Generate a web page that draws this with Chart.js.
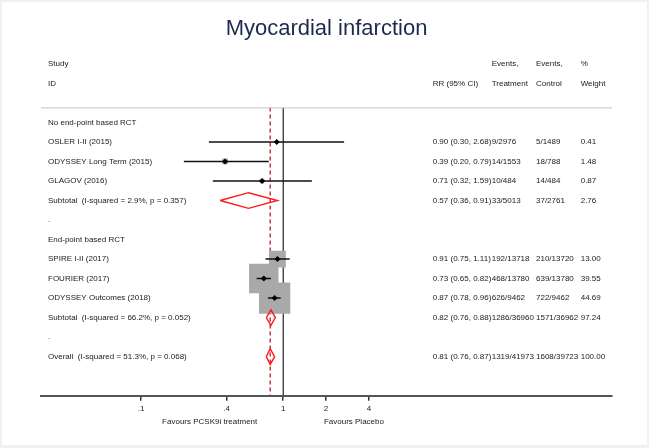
<!DOCTYPE html>
<html>
<head>
<meta charset="utf-8">
<script src="https://cdn.jsdelivr.net/npm/chart.js@4.4.1/dist/chart.umd.min.js"></script>
<style>
  body { margin: 0; background: #fff; }
  #plot { display: block; }
</style>
</head>
<body>
<canvas id="plot" width="649" height="448"></canvas>
<script>
// forest plot rows, top to bottom
const rowLabels = [
  "No end-point based RCT",
  "OSLER I-II (2015)",
  "ODYSSEY Long Term (2015)",
  "GLAGOV (2016)",
  "Subtotal  (I-squared = 2.9%, p = 0.357)",
  ".",
  "End-point based RCT",
  "SPIRE I-II (2017)",
  "FOURIER (2017)",
  "ODYSSEY Outcomes (2018)",
  "Subtotal  (I-squared = 66.2%, p = 0.052)",
  ".",
  "Overall  (I-squared = 51.3%, p = 0.068)"
];
const rowKind = ["head", "study", "study", "study", "pooled", "blank", "head", "study", "study", "study", "pooled", "blank", "pooled"];
const rr = [null, 0.90, 0.39, 0.71, 0.57, null, null, 0.91, 0.73, 0.87, 0.82, null, 0.81];
const ciLow = [null, 0.30, 0.20, 0.32, 0.36, null, null, 0.75, 0.65, 0.78, 0.76, null, 0.76];
const ciHigh = [null, 2.68, 0.79, 1.59, 0.91, null, null, 1.11, 0.82, 0.96, 0.88, null, 0.87];
const eventsTrt = ["", "9/2976", "14/1553", "10/484", "33/5013", "", "", "192/13718", "468/13780", "626/9462", "1286/36960", "", "1319/41973"];
const eventsCtl = ["", "5/1489", "18/788", "14/484", "37/2761", "", "", "210/13720", "639/13780", "722/9462", "1571/36962", "", "1608/39723"];
const weight = [null, 0.41, 1.48, 0.87, 2.76, null, null, 13.00, 39.55, 44.69, 97.24, null, 100.00];

const tickValues = [0.1, 0.4, 1, 2, 4];
const tickLabels = [".1", ".4", "1", "2", "4"];
const favourText = ["Favours PCSK9i treatment", "Favours Placebo"];

const overallRR = rr[rr.length - 1];
const yTop = -0.77, yBottom = 14;
const FONT = "'Liberation Sans', Arial, Helvetica, sans-serif";

// text column x positions (px)
const col = { study: 48, rr: 432.7, trt: 491.7, ctl: 536, wt: 580.7 };

const datasets = [];

// reference lines
datasets.push({
  data: [{ x: 1, y: yTop }, { x: 1, y: yBottom }],
  showLine: true, borderColor: "#222", borderWidth: 1.2, pointRadius: 0, order: 5
});
datasets.push({
  data: [{ x: overallRR, y: yTop }, { x: overallRR, y: yBottom }],
  showLine: true, borderColor: "#c8283c", borderWidth: 1.4, borderDash: [4, 3], pointRadius: 0, order: 5
});

// weight boxes
const boxPts = [], boxR = [];
rowKind.forEach((k, i) => {
  if (k === "study") {
    boxPts.push({ x: rr[i], y: i });
    boxR.push(4.68 * Math.sqrt(weight[i]) / Math.SQRT2);
  }
});
datasets.push({
  data: boxPts, pointStyle: "rect", pointRadius: boxR,
  pointBackgroundColor: "#a9a9a9", pointBorderWidth: 0, order: 4
});

// CI lines
rowKind.forEach((k, i) => {
  if (k === "study") {
    datasets.push({
      data: [{ x: ciLow[i], y: i }, { x: ciHigh[i], y: i }],
      showLine: true, borderColor: "#111", borderWidth: 1.5, pointRadius: 0, order: 2
    });
  }
});

// point estimates
datasets.push({
  data: boxPts.map(p => ({ x: p.x, y: p.y })), pointStyle: "rectRot", pointRadius: 3,
  pointBackgroundColor: "#000", pointBorderWidth: 0, order: 1
});

// pooled diamonds
rowKind.forEach((k, i) => {
  if (k === "pooled") {
    const h = 0.4;
    datasets.push({
      data: [
        { x: ciLow[i], y: i }, { x: rr[i], y: i - h }, { x: ciHigh[i], y: i },
        { x: rr[i], y: i + h }, { x: ciLow[i], y: i }
      ],
      showLine: true, borderColor: "#ff1a1a", borderWidth: 1.4, pointRadius: 0,
      tension: 0, fill: false, order: 1
    });
  }
});

const textPlugin = {
  id: "forestText",
  beforeDraw(chart) {
    const c = chart.ctx;
    c.save();
    c.fillStyle = "#eef2f3";
    c.fillRect(0, 0, chart.width, chart.height);
    c.fillStyle = "#fff";
    c.fillRect(2, 2, chart.width - 4, chart.height - 5);
    c.restore();
  },
  afterDraw(chart) {
    const c = chart.ctx;
    const y = chart.scales.y, x = chart.scales.x;
    const area = chart.chartArea;
    c.save();
    // header rule
    c.strokeStyle = "#c4c4c4";
    c.lineWidth = 1;
    c.beginPath();
    c.moveTo(area.left, area.top + 0.5);
    c.lineTo(area.right, area.top + 0.5);
    c.stroke();

    c.fillStyle = "#1a1a1a";
    c.font = "8px " + FONT;
    c.textBaseline = "middle";
    c.textAlign = "left";
    const h1 = y.getPixelForValue(-3), h2 = y.getPixelForValue(-2);
    c.fillText("Study", col.study, h1);
    c.fillText("ID", col.study, h2);
    c.fillText("Events,", col.trt, h1);
    c.fillText("Events,", col.ctl, h1);
    c.fillText("%", col.wt, h1);
    c.fillText("RR (95% CI)", col.rr, h2);
    c.fillText("Treatment", col.trt, h2);
    c.fillText("Control", col.ctl, h2);
    c.fillText("Weight", col.wt, h2);

    rowLabels.forEach((lab, i) => {
      const py = y.getPixelForValue(i);
      c.fillText(lab, col.study, py);
      if (rr[i] != null) {
        c.fillText(rr[i].toFixed(2) + " (" + ciLow[i].toFixed(2) + ", " + ciHigh[i].toFixed(2) + ")", col.rr, py);
        c.fillText(eventsTrt[i], col.trt, py);
        c.fillText(eventsCtl[i], col.ctl, py);
        c.fillText(weight[i].toFixed(2), col.wt, py);
      }
    });

    c.textAlign = "center";
    const fy = area.bottom + 26.5;
    c.fillText(favourText[0], x.getPixelForValue(0.304), fy);
    c.fillText(favourText[1], x.getPixelForValue(3.14), fy);
    c.restore();
  }
};

new Chart(document.getElementById("plot"), {
  type: "scatter",
  data: { datasets },
  plugins: [textPlugin],
  options: {
    responsive: false,
    animation: false,
    devicePixelRatio: 1,
    layout: { padding: { left: 41, right: 37, top: 0, bottom: 0 } },
    plugins: {
      legend: { display: false },
      tooltip: { enabled: false },
      title: {
        display: true,
        text: "Myocardial infarction",
        color: "#1c2a4f",
        font: { family: FONT, size: 22, weight: "normal" },
        padding: { top: 16, bottom: 65 }
      }
    },
    scales: {
      x: {
        type: "logarithmic",
        min: 0.0198,
        max: 205,
        afterBuildTicks: s => { s.ticks = tickValues.map(v => ({ value: v })); },
        afterFit: s => { s.height = 52.3; },
        ticks: {
          autoSkip: false, maxRotation: 0, padding: 3.5, color: "#1a1a1a",
          font: { family: FONT, size: 8 },
          callback: (v, i) => tickLabels[i]
        },
        grid: { drawOnChartArea: false, drawTicks: true, tickLength: 5, color: "#333", lineWidth: 1.5 },
        border: { display: true, color: "#555", width: 2 }
      },
      y: {
        type: "linear", min: yTop, max: yBottom, reverse: true, display: false
      }
    }
  }
});
</script>
</body>
</html>
